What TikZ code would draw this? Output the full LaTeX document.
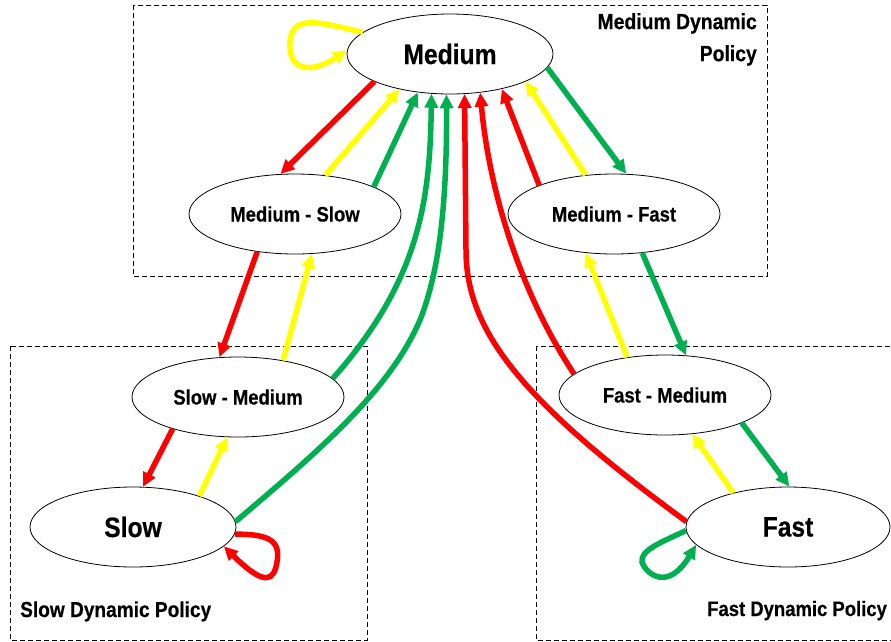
\documentclass[tikz,border=0pt]{standalone}
\usepackage{fontspec}
\setmainfont{Liberation Sans}[FakeStretch=0.88,BoldFeatures={FakeBold=0.4}]
\usetikzlibrary{arrows.meta,shapes.geometric}
\definecolor{cred}{RGB}{255,0,0}
\definecolor{cyel}{RGB}{255,255,0}
\definecolor{cgreen}{RGB}{0,176,80}
\begin{document}
\begin{tikzpicture}[x=1pt,y=-1pt,
  state/.style={ellipse,draw,line width=0.8pt,inner sep=0pt,minimum width=212pt,minimum height=80pt,font=\bfseries\fontsize{21}{25}\selectfont},
  bigstate/.style={state,minimum width=206pt,font=\bfseries\fontsize{28}{32}\selectfont},
  region/.style={draw,dash pattern=on 5pt off 3pt,line width=0.7pt},
  lbl/.style={font=\bfseries\fontsize{21}{32}\selectfont,inner sep=0pt},
  tr/.style={line width=5.5pt,-{Triangle[length=14pt,width=13pt]}},
  R/.style={tr,cred},
  Y/.style={tr,cyel},
  G/.style={tr,cgreen}]
\useasboundingbox (0,0) rectangle (891,641);
% regions
\draw[region] (133,5) rectangle (767,276);
\draw[region] (10,346) rectangle (367,640);
\draw[region] (536,346) rectangle (895,640);
% labels
\node[lbl,font=\bfseries\fontsize{22}{32}\selectfont,anchor=north east,align=right] (lm) at (757,13) {Medium Dynamic\\Policy};
\node[lbl,font=\bfseries\fontsize{21.7}{32}\selectfont,anchor=base west] (ls) at (20,617) {Slow Dynamic Policy};
\node[lbl,anchor=base west] (lf) at (707,616) {Fast Dynamic Policy};
% states
\node[bigstate] (med) at (450,54) {Medium};
\node[state] (ms) at (295,214) {Medium - Slow};
\node[state] (mf) at (614,214) {Medium - Fast};
\node[state] (sm) at (238,397) {Slow - Medium};
\node[state] (fm) at (665,395) {Fast - Medium};
\node[bigstate] (slow) at (133,527) {Slow};
\node[bigstate,minimum width=204pt] (fast) at (788,527) {Fast};
% top transitions
\draw[R] (med.200.7) -- (ms.110.6);
\draw[Y] (ms.52) -- (med.215.8);
\draw[G] (ms.19.5) -- (med.230.6);
\draw[G] (sm.11) .. controls (420,280) and (430,200) .. (med.245.8);
\draw[G] (slow.3.3) .. controls (320,450) and (390,390) .. (420,320) .. controls (440,270) and (447,200) .. (med.265.7);
\draw[R] (fast.177) .. controls (520,400) and (466,330) .. (466,250) -- (med.290.6);
\draw[R] (fm.167.3) .. controls (525,300) and (490,200) .. (med.308.7);
\draw[R] (mf.159.6) -- (med.-34.2);
\draw[Y] (mf.126.2) -- (med.-20.2);
\draw[G] (med.-8.2) -- (mf.73.7);
% slow side
\draw[R] (ms.225) -- (sm.115.4);
\draw[Y] (sm.39.8) -- (ms.-67.5);
\draw[R] (sm.206.9) -- (slow.76);
\draw[Y] (slow.25.8) -- (sm.255);
% fast side
\draw[G] (mf.-54.7) -- (fm.62.2);
\draw[Y] (fm.135.8) -- (mf.234);
\draw[Y] (fast.148.7) -- (fm.-55.7);
\draw[G] (fm.-20) -- (fast.88.6);
% self loops
\draw[Y] (med.166.6) .. controls (318,22) and (292,14) .. (290,42) .. controls (288,68) and (308,76) .. (med.178.9);
\draw[R] (slow.-4.4) .. controls (268,534) and (281,540) .. (277,562) .. controls (274,580) and (266,588) .. (slow.-12.6);
\draw[G] (fast.182.2) .. controls (662,542) and (640,550) .. (642,562) .. controls (646,574) and (668,592) .. (fast.191);
\end{tikzpicture}
\end{document}
